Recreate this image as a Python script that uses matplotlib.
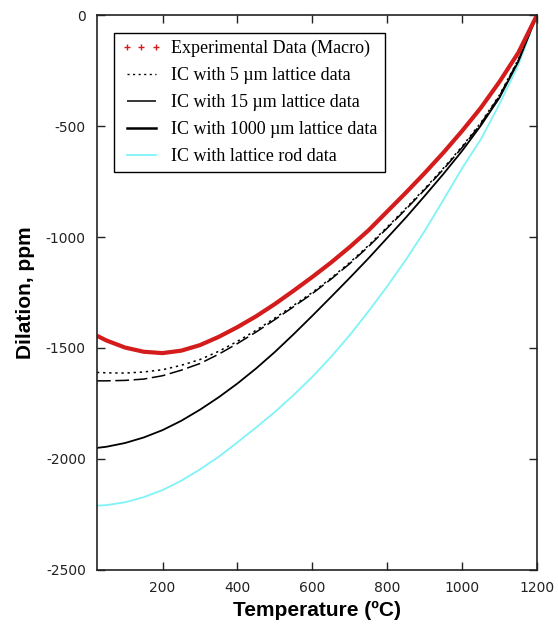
import matplotlib
matplotlib.use("Agg")
import matplotlib.pyplot as plt
from matplotlib.lines import Line2D

plt.rcParams['axes.unicode_minus'] = False

# temperature grid, deg C
temps = [25, 50, 100, 150, 200, 250, 300, 350, 400, 450, 500, 550, 600,
         650, 700, 750, 800, 850, 900, 950, 1000, 1050, 1100, 1150, 1200]

# dilation, ppm
exp_macro = [-1445, -1466, -1498, -1517, -1523, -1512, -1487, -1450, -1406,
             -1357, -1302, -1242, -1180, -1115, -1045, -970, -885, -800,
             -712, -620, -522, -418, -300, -170, 0]
ic_5um = [-1610, -1612, -1613, -1608, -1598, -1578, -1552, -1515, -1470,
          -1420, -1365, -1308, -1250, -1185, -1115, -1038, -955, -870,
          -782, -690, -592, -485, -360, -200, 0]
ic_15um = [-1648, -1648, -1646, -1640, -1625, -1600, -1570, -1528, -1480,
           -1428, -1372, -1314, -1255, -1190, -1120, -1043, -960, -875,
           -787, -695, -597, -490, -364, -204, 0]
ic_1000um = [-1950, -1945, -1928, -1903, -1870, -1828, -1778, -1722, -1660,
             -1592, -1518, -1438, -1355, -1270, -1184, -1096, -1004, -912,
             -815, -716, -612, -498, -372, -210, 0]
ic_rod = [-2210, -2208, -2195, -2172, -2140, -2098, -2047, -1990, -1925,
          -1858, -1788, -1712, -1630, -1540, -1442, -1335, -1222, -1102,
          -973, -833, -690, -560, -400, -225, 0]

labels = ["Experimental Data (Macro)",
          "IC with 5 \u00b5m lattice data",
          "IC with 15 \u00b5m lattice data",
          "IC with 1000 \u00b5m lattice data",
          "IC with lattice rod data"]

fig = plt.figure(figsize=(5.58, 6.26), dpi=100)
ax = fig.add_axes([0.1738, 0.0895, 0.7886, 0.8865])

red = '#d41c1c'
cyan = '#7ff3f7'

ax.plot(temps, ic_rod, color=cyan, lw=1.3)
ax.plot(temps, ic_1000um, color='black', lw=1.3)
ax.plot(temps, ic_15um, color='black', lw=1.1, ls=(0, (9, 3)))
ax.plot(temps, ic_5um, color='black', lw=1.1, ls=(0, (1.5, 2.5)))
ax.plot(temps, exp_macro, color=red, lw=3.0, solid_capstyle='butt')

ax.set_xlim(25, 1200)
ax.set_ylim(-2500, 0)
ax.set_xticks([200, 400, 600, 800, 1000, 1200])
ax.set_yticks([0, -500, -1000, -1500, -2000, -2500])

ax.tick_params(direction='in', top=True, right=True, length=6, width=1,
               labelsize=10, pad=8, colors='#222222')
for s in ax.spines.values():
    s.set_linewidth(1.2)
    s.set_color('#222222')

ax.set_xlabel("Temperature (\u00baC)", fontsize=15, fontweight='bold',
              family='Liberation Sans', labelpad=4)
ax.set_ylabel("Dilation, ppm", fontsize=15, fontweight='bold',
              family='Liberation Sans', labelpad=8)

handles = [
    Line2D([], [], color=red, ls='none', marker='+', ms=4, mew=1),
    Line2D([], [], color='black', lw=1, ls=(0, (1.5, 2.5))),
    Line2D([], [], color='black', lw=1.1, ls=(0, (20, 10))),
    Line2D([], [], color='black', lw=1.8),
    Line2D([], [], color=cyan, lw=1.3),
]
leg = ax.legend(handles, labels, loc='upper left',
                bbox_to_anchor=(0.039, 0.968), borderaxespad=0,
                prop={'family': 'Liberation Serif', 'size': 13.0},
                numpoints=3, handlelength=2.2, handletextpad=0.55,
                labelspacing=0.55, borderpad=0.4, fancybox=False,
                framealpha=1, edgecolor='black')
leg.get_frame().set_linewidth(1.0)

fig.savefig("out.png", dpi=100)
